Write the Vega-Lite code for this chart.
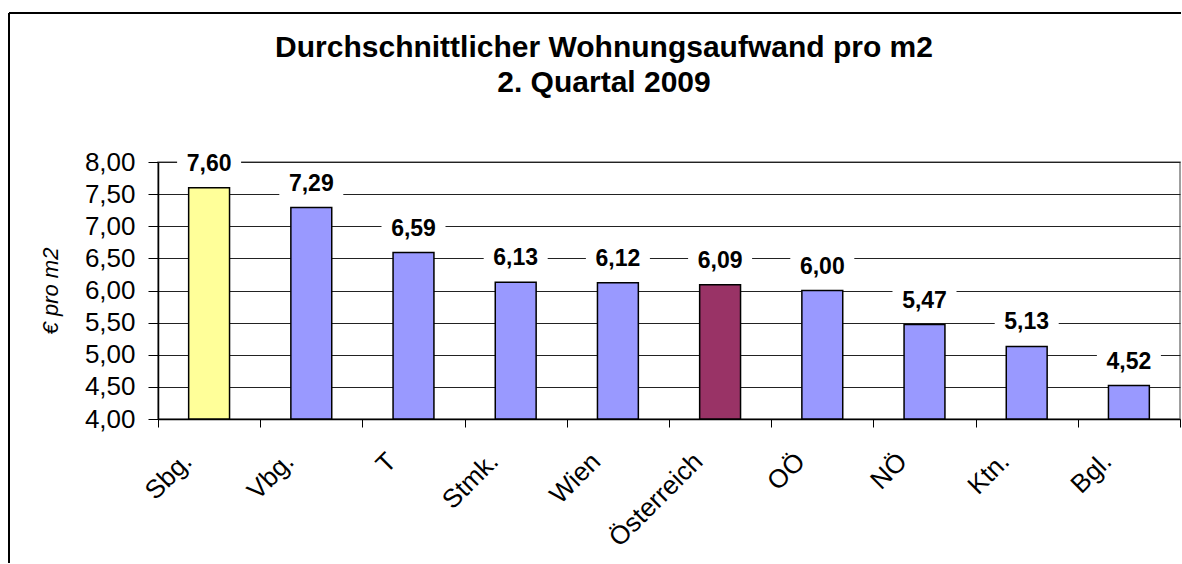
{
  "$schema": "https://vega.github.io/schema/vega-lite/v6.json",
  "width": 1022,
  "height": 257,
  "padding": {"left": 8, "top": 12, "right": 0, "bottom": 0},
  "background": "white",
  "config": {
    "locale": {"number": {"decimal": ",", "thousands": ".", "grouping": [3], "currency": ["", " €"]}},
    "font": "Liberation Sans",
    "view": {"stroke": "#808080", "strokeWidth": 1.5}
  },
  "title": {
    "text": ["Durchschnittlicher Wohnungsaufwand pro m2", "2. Quartal 2009"],
    "font": "Liberation Sans",
    "fontSize": 30,
    "fontWeight": "bold",
    "color": "black",
    "lineHeight": 35,
    "anchor": "middle",
    "frame": "group",
    "dx": -65,
    "offset": -86
  },
  "data": {
    "values": [
      {"region": "Sbg.", "wert": 7.60, "typ": "Salzburg"},
      {"region": "Vbg.", "wert": 7.29, "typ": "Bundesland"},
      {"region": "T", "wert": 6.59, "typ": "Bundesland"},
      {"region": "Stmk.", "wert": 6.13, "typ": "Bundesland"},
      {"region": "Wien", "wert": 6.12, "typ": "Bundesland"},
      {"region": "Österreich", "wert": 6.09, "typ": "Österreich"},
      {"region": "OÖ", "wert": 6.00, "typ": "Bundesland"},
      {"region": "NÖ", "wert": 5.47, "typ": "Bundesland"},
      {"region": "Ktn.", "wert": 5.13, "typ": "Bundesland"},
      {"region": "Bgl.", "wert": 4.52, "typ": "Bundesland"}
    ]
  },
  "encoding": {
    "x": {
      "field": "region", "type": "nominal", "sort": null,
      "scale": {"paddingInner": 0, "paddingOuter": 0},
      "axis": {
        "title": null,
        "labelAngle": -45,
        "labelAlign": "right",
        "labelBaseline": "middle",
        "labelFontSize": 26,
        "labelColor": "black",
        "labelPadding": 30,
        "labelOffset": -22,
        "tickBand": "extent",
        "tickSize": 8,
        "tickColor": "black",
        "domainColor": "black",
        "domainWidth": 1.5,
        "grid": false
      }
    },
    "y": {
      "field": "wert", "type": "quantitative",
      "scale": {"domain": [4, 8], "zero": false, "nice": false},
      "axis": {
        "title": "€ pro m2",
        "titleFont": "Liberation Sans",
        "titleFontSize": 22,
        "titleFontStyle": "italic",
        "titleFontWeight": "normal",
        "titleColor": "black",
        "titlePadding": 22,
        "values": [4, 4.5, 5, 5.5, 6, 6.5, 7, 7.5, 8],
        "format": ".2f",
        "labelFontSize": 26,
        "labelColor": "black",
        "labelPadding": 13,
        "labelOverlap": false,
        "tickSize": 10,
        "tickColor": "black",
        "domainColor": "black",
        "domainWidth": 1.5,
        "grid": true,
        "gridColor": "#222222",
        "gridWidth": 1
      }
    }
  },
  "layer": [
    {
      "mark": {"type": "bar", "width": {"band": 0.4}, "stroke": "black", "strokeWidth": 1.5},
      "encoding": {
        "y2": {"datum": 4},
        "color": {
          "field": "typ", "type": "nominal",
          "scale": {"domain": ["Salzburg", "Bundesland", "Österreich"], "range": ["#FFFF99", "#9999FF", "#993366"]},
          "legend": null
        }
      }
    },
    {
      "mark": {"type": "point", "shape": "M-1,-0.467H1V0.467H-1Z", "filled": true, "color": "white", "opacity": 1, "strokeWidth": 0, "size": 4096, "yOffset": -25}
    },
    {
      "mark": {"type": "text", "fontWeight": "bold", "fontSize": 23, "baseline": "alphabetic", "dy": -17, "color": "black"},
      "encoding": {
        "text": {"field": "wert", "type": "quantitative", "format": ".2f"}
      }
    },
    {
      "data": {"values": [{}]},
      "mark": {"type": "rule", "color": "black", "strokeWidth": 2},
      "encoding": {
        "x": {"value": -149},
        "y": {"value": -149},
        "y2": {"value": 401}
      }
    },
    {
      "data": {"values": [{}]},
      "mark": {"type": "rule", "color": "black", "strokeWidth": 2},
      "encoding": {
        "x": {"value": -149},
        "x2": {"value": 1023},
        "y": {"value": -149}
      }
    }
  ]
}
